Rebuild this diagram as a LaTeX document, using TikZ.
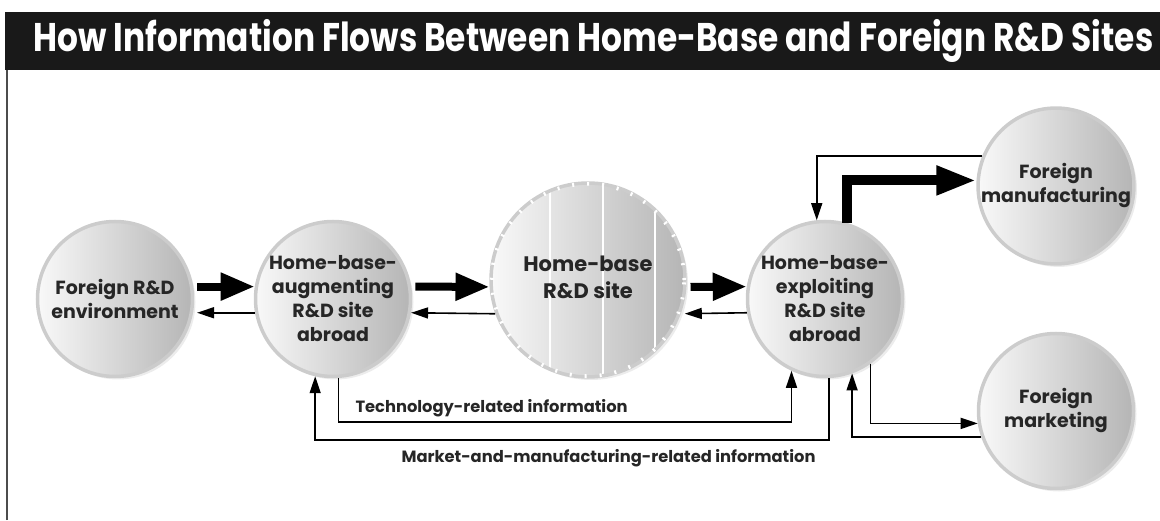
\documentclass[tikz,border=0pt]{standalone}
\usepackage{fontspec}
\setmainfont{Poppins}
\newfontfamily\titlefont{Poppins}[FakeStretch=0.82]
\usepackage{tikz}
\usetikzlibrary{arrows.meta,shadows}

\begin{document}
\begin{tikzpicture}[x=1pt,y=1pt,
  site/.style={circle,minimum size=#1,inner sep=0pt,align=center,
    font=\fontsize{19}{24}\selectfont\bfseries,text=black!85,
    left color=gray!5,right color=gray!58,draw=gray!40,line width=3.5pt,
    drop shadow={opacity=0.15,shadow xshift=3pt,shadow yshift=-3pt}},
  site/.default=155pt,
  fat/.style={line width=8pt,-{Triangle[length=34pt,width=26pt]},shorten <=4pt},
  back/.style={line width=1.6pt,-{Triangle[length=17pt,width=11pt]}},
  lbl/.style={font=\fontsize{16.3}{16}\selectfont\bfseries,text=black!85}]
\useasboundingbox (0,0) rectangle (1160,520);
% frame and title bar
\draw[gray!60!black,line width=2.5pt] (7,0)--(7,508);
\fill[black!90] (5,450) rectangle (1160,508);
\node[anchor=west,text=white,font=\titlefont\fontsize{40}{40}\selectfont\bfseries] (title) at (30,479)
  {How Information Flows Between Home-Base and Foreign R\&D Sites};
% sites
\node[site] (env) at (115,221) {Foreign R\&D\\environment};
\node[site] (aug) at (333,221) {Home-base-\\augmenting\\R\&D site\\abroad};
\node[site=194pt] (home) at (588,240) {};
\node[site] (expl) at (825,221) {Home-base-\\exploiting\\R\&D site\\abroad};
\node[site] (manu) at (1056,334) {Foreign\\manufacturing};
\node[site] (mark) at (1056,109) {Foreign\\marketing};
% stripes on the home-base site
\begin{scope}
\clip (home.center) circle (95pt);
\draw[white,line width=1.4pt] (550,100)--(550,400) (603,100)--(603,400) (655,100)--(655,400);
\end{scope}
\draw[white,line width=3.8pt,dash pattern=on 2pt off 13pt] (home.center) circle (96.2pt);
\node[font=\fontsize{21}{27}\selectfont\bfseries,text=black!85,align=center] (homelbl) at (588,243) {Home-base\\R\&D site};
% flows between sites
\draw[fat] (env.9) -- (aug.171);
\draw[back,shorten >=4pt] (aug.190) -- (env.-10);
\draw[fat] (aug.9) -- (home.184);
\draw[back] (home.200) -- (aug.-10);
\draw[fat] (home.-4) -- (expl.171);
\draw[back,shorten >=4pt] (expl.190) -- (home.-20);
\draw[line width=10pt,line join=miter,-{Triangle[length=40pt,width=27pt]}] (expl.74) |- (manu.176);
\draw[back] (manu.158) -| (expl.96);
\draw[back] (expl.-55) |- (mark.189);
\draw[back] (mark.199) -| (expl.-70);
% information loops
\coordinate (techy) at (0,98);
\coordinate (marky) at (0,80);
\draw[back] (aug.-86) -- (aug.-86 |- techy) -| (expl.-115);
\draw[back] (expl.-87) -- (expl.-87 |- marky) -| (aug.-103);
\node[lbl,anchor=west] (techlbl) at (352,112) {Technology-related information};
\node[lbl,anchor=west] (marklbl) at (398,62) {Market-and-manufacturing-related information};
\end{tikzpicture}
\end{document}
